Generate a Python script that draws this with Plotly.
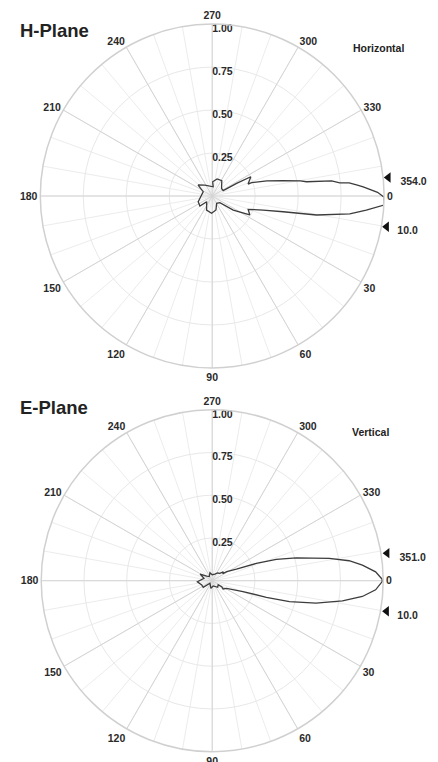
import math
import plotly.graph_objects as go

# ---------------- data ----------------
# H-plane (horizontal) pattern: traced outline, angle in degrees (clockwise from 0), normalised r
h_theta = [0.4, 358.7, 356.5, 355.6, 354.5, 354.1, 352.8, 351.4, 350.2, 347.8, 344.5, 341.3,
           341.6, 333.5, 332.5, 334.0, 321.0, 302.0, 286.0, 272.0, 276.0, 236.0, 218.0, 205.5,
           158.0, 141.0, 134.0, 112.0, 92.0, 75.0, 59.0, 41.0, 33.7, 26.7, 20.3, 15.4, 12.5,
           10.3, 7.4, 5.2, 3.0, 0.4]
h_r = [1.00, 0.962, 0.88, 0.842, 0.80, 0.746, 0.70, 0.555, 0.52, 0.42, 0.33, 0.242,
       0.22, 0.251, 0.16, 0.071, 0.07, 0.105, 0.103, 0.083, 0.054, 0.077, 0.104, 0.058,
       0.088, 0.092, 0.046, 0.088, 0.10, 0.084, 0.05, 0.059, 0.147, 0.245, 0.223, 0.307, 0.423,
       0.617, 0.807, 0.90, 1.00, 1.00]

# E-plane (vertical) pattern
e_theta = [359.5, 356.9, 354.1, 351.7, 349.2, 344.8, 341.6, 338.6, 334.4, 328.0, 326.0, 321.0,
           316.0, 305.0, 292.0, 270.0, 254.0, 235.0, 220.0, 209.0, 196.0, 176.0, 158.0, 144.0,
           131.0, 100.0, 79.0, 50.0, 34.0, 32.5, 37.0, 27.8, 19.5, 17.0, 15.1, 12.2, 8.8, 6.0,
           3.2, 0.3, 359.5]
e_r = [0.994, 0.957, 0.883, 0.809, 0.697, 0.509, 0.395, 0.277, 0.157, 0.10, 0.075, 0.083,
       0.062, 0.055, 0.042, 0.035, 0.048, 0.030, 0.042, 0.081, 0.05, 0.087, 0.066, 0.065,
       0.02, 0.045, 0.031, 0.05, 0.042, 0.065, 0.08, 0.095, 0.191, 0.331, 0.468, 0.621, 0.771,
       0.883, 0.957, 0.994, 0.994]

# half-power (3 dB) markers
h_hp = [354.0, 10.0]
e_hp = [351.0, 10.0]
h_hp_txt = ["354.0", "10.0"]
e_hp_txt = ["351.0", "10.0"]

ang_ticks = list(range(0, 360, 30))
ang_minor = list(range(0, 360, 10))
rad_ticks = [0.25, 0.5, 0.75, 1.0]
rad_text = ["0.25", "0.50", "0.75", "1.00"]
rad_label_angle = 270

# ---------------- figure ----------------
FONT = "Liberation Sans, Arial, sans-serif"
LBL = dict(family=FONT, size=10.5, color="#2a2a2a", weight="bold")

fig = go.Figure()


def add_plot(theta, r, hp, hp_txt, bg, fg, xa, ya):
    fig.add_trace(go.Scatterpolar(theta=[0], r=[0], mode="markers", subplot=bg,
                                  marker=dict(size=1, color="rgba(0,0,0,0)"),
                                  showlegend=False, hoverinfo="skip"))
    fig.add_trace(go.Scatterpolar(theta=theta, r=r, mode="lines", subplot=fg,
                                  line=dict(color="#3c3c3c", width=1.3), showlegend=False,
                                  hoverinfo="skip"))
    # radial scale labels along the 270 spoke
    fig.add_trace(go.Scatterpolar(theta=[rad_label_angle] * len(rad_ticks), r=rad_ticks,
                                  mode="text", subplot=fg, text=rad_text,
                                  textposition="bottom right", textfont=LBL,
                                  showlegend=False, hoverinfo="skip"))
    # half-power markers just outside the rim (cartesian overlay, clockwise angles)
    rm, dt = 1.03, 1.6
    fig.add_trace(go.Scatter(
        x=[rm * math.cos(math.radians(t)) for t in hp],
        y=[-rm * math.sin(math.radians(t)) for t in hp],
        xaxis=xa, yaxis=ya, mode="markers", cliponaxis=False,
        marker=dict(symbol="triangle-left", size=9, color="#111111"),
        showlegend=False, hoverinfo="skip"))
    fig.add_trace(go.Scatter(
        x=[rm * math.cos(math.radians(t + dt)) for t in hp],
        y=[-rm * math.sin(math.radians(t + dt)) for t in hp],
        xaxis=xa, yaxis=ya, mode="text", cliponaxis=False,
        text=["    " + s for s in hp_txt], textposition="middle right", textfont=LBL,
        showlegend=False, hoverinfo="skip"))


add_plot(h_theta, h_r, h_hp, h_hp_txt, "polar", "polar2", "x", "y")
add_plot(e_theta, e_r, e_hp, e_hp_txt, "polar3", "polar4", "x2", "y2")


def bg_polar(x, y):
    return dict(domain=dict(x=x, y=y), bgcolor="rgba(0,0,0,0)",
                angularaxis=dict(direction="clockwise", rotation=0, tickvals=ang_minor,
                                 showticklabels=False, ticks="", gridcolor="#ececec",
                                 gridwidth=1, showline=False),
                radialaxis=dict(range=[0, 1], tickvals=rad_ticks, showticklabels=False,
                                ticks="", gridcolor="#e8e8e8", showline=False))


def fg_polar(x, y):
    return dict(domain=dict(x=x, y=y), bgcolor="rgba(0,0,0,0)",
                angularaxis=dict(direction="clockwise", rotation=0, tickvals=ang_ticks,
                                 ticktext=[str(a) for a in ang_ticks], tickfont=LBL, ticks="",
                                 gridcolor="#d4d4d4", gridwidth=1.2, showline=True,
                                 linecolor="#d0d0d0", linewidth=1.5),
                radialaxis=dict(range=[0, 1], showticklabels=False, ticks="",
                                showgrid=False, showline=False))


X = [0.092, 0.877]
XW = [0.092, 0.877 + 0.2 * (0.877 - 0.092) / 2]   # cartesian overlay, x range [-1, 1.2]
Y1 = [0.517, 0.9685]
Y2 = [0.0135, 0.4623]

hx = dict(visible=False, range=[-1, 1.2], fixedrange=True, automargin=False)
hy = dict(visible=False, range=[-1, 1], fixedrange=True, automargin=False)

fig.update_layout(
    width=438, height=762, margin=dict(l=0, r=0, t=0, b=0, autoexpand=False),
    paper_bgcolor="white", plot_bgcolor="rgba(0,0,0,0)",
    polar=bg_polar(X, Y1), polar2=fg_polar(X, Y1),
    polar3=bg_polar(X, Y2), polar4=fg_polar(X, Y2),
    xaxis=dict(domain=XW, anchor="y", **hx), yaxis=dict(domain=Y1, anchor="x", **hy),
    xaxis2=dict(domain=XW, anchor="y2", **hx), yaxis2=dict(domain=Y2, anchor="x2", **hy),
)

titles = [("H-Plane", 18, 30, 18.5, "left"), ("Horizontal", 378.5, 48.3, 10.5, "center"),
          ("E-Plane", 18, 407.7, 18.5, "left"), ("Vertical", 370.8, 432.3, 10.5, "center")]
fig.update_layout(annotations=[
    dict(text=t, x=px / 438, y=1 - py / 762, xref="paper", yref="paper", showarrow=False,
         xanchor=anc, yanchor="middle",
         font=dict(family=FONT, size=sz, color="#222222", weight="bold"))
    for t, px, py, sz, anc in titles])

fig.write_html("out.html", config={"displayModeBar": False},
               post_script="document.body.style.margin='0px';")
